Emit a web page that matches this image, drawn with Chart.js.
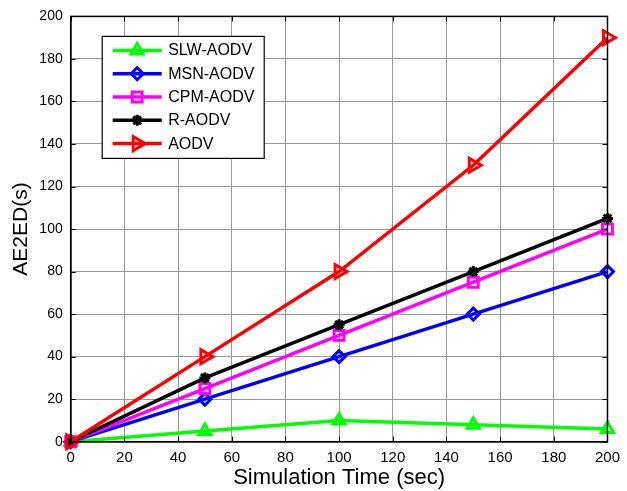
<!DOCTYPE html>
<html>
<head>
<meta charset="utf-8">
<script src="https://cdn.jsdelivr.net/npm/chart.js@4/dist/chart.umd.min.js"></script>
<style>
  html, body { margin: 0; padding: 0; background: #ffffff; }
  canvas { display: block; }
</style>
</head>
<body>
<canvas id="chart" width="627" height="491"></canvas>
<script>
// Simulation time (sec) at which each protocol was measured
const simTimes = [0, 50, 100, 150, 200];

// Average end-to-end delay, AE2ED (s), per protocol
const slwAodv = [0, 5, 10, 8, 6];
const msnAodv = [0, 20, 40, 60, 80];
const cpmAodv = [0, 25, 50, 75, 100];
const rAodv   = [0, 30, 55, 80, 105];
const aodv    = [0, 40, 80, 130, 190];

const seriesNames = ['SLW-AODV', 'MSN-AODV', 'CPM-AODV', 'R-AODV', 'AODV'];

// Axis tick values (both axes run 0..200 in steps of 20)
const xTicks = [0, 20, 40, 60, 80, 100, 120, 140, 160, 180, 200];
const yTicks = [0, 20, 40, 60, 80, 100, 120, 140, 160, 180, 200];

const FONT = "'Liberation Sans', Arial, sans-serif";

function toPoints(values) {
  return values.map((v, i) => ({ x: simTimes[i], y: v }));
}

function series(label, values, color, style, radius, rotation, order) {
  return {
    label: label,
    data: toPoints(values),
    borderColor: color,
    backgroundColor: color,
    borderWidth: 3.5,
    pointStyle: style,
    pointRadius: radius,
    pointRotation: rotation,
    pointBorderColor: color,
    pointBackgroundColor: 'rgba(0,0,0,0)',
    pointBorderWidth: 3,
    tension: 0,
    clip: false,
    order: order
  };
}

const datasets = [
  series(seriesNames[0], slwAodv, '#00ff00', 'triangle', 7, 0, 4),
  series(seriesNames[1], msnAodv, '#0000ff', 'rectRot', 6, 0, 3),
  series(seriesNames[2], cpmAodv, '#ff00ff', 'rect', 7, 0, 2),
  series(seriesNames[3], rAodv,   '#000000', 'star', 5.5, 0, 1),
  series(seriesNames[4], aodv,    '#ff0000', 'triangle', 8, 90, 0)
];

// Box frame with inward tick marks on all four sides
const frameTicks = {
  id: 'frameTicks',
  afterDatasetsDraw(chart) {
    const { ctx, chartArea: a, scales } = chart;
    const len = 5;
    ctx.save();
    ctx.strokeStyle = '#000';
    ctx.lineWidth = 1;
    ctx.beginPath();
    xTicks.forEach(v => {
      const px = Math.round(scales.x.getPixelForValue(v)) + 0.5;
      ctx.moveTo(px, a.bottom); ctx.lineTo(px, a.bottom - len);
      ctx.moveTo(px, a.top); ctx.lineTo(px, a.top + len);
    });
    yTicks.forEach(v => {
      const py = Math.round(scales.y.getPixelForValue(v)) + 0.5;
      ctx.moveTo(a.left, py); ctx.lineTo(a.left + len, py);
      ctx.moveTo(a.right, py); ctx.lineTo(a.right - len, py);
    });
    ctx.stroke();
    ctx.lineWidth = 1.5;
    ctx.strokeRect(a.left, a.top, a.right - a.left, a.bottom - a.top);
    ctx.restore();
  }
};

// Boxed legend inside the plot: line sample with marker, then the name
const boxLegend = {
  id: 'boxLegend',
  afterDraw(chart) {
    const { ctx, chartArea: a } = chart;
    const bx = a.left + 31.5, by = a.top + 20, bw = 162, bh = 122;
    ctx.save();
    ctx.fillStyle = '#ffffff';
    ctx.fillRect(bx, by, bw, bh);
    ctx.strokeStyle = '#000';
    ctx.lineWidth = 1.2;
    ctx.strokeRect(bx, by, bw, bh);
    chart.data.datasets.forEach((ds, i) => {
      const cy = by + 14 + i * 23.3;
      const x0 = bx + 10.5, x1 = bx + 59.5, xm = (x0 + x1) / 2;
      ctx.strokeStyle = ds.borderColor;
      ctx.lineWidth = ds.borderWidth;
      ctx.beginPath();
      ctx.moveTo(x0, cy); ctx.lineTo(x1, cy);
      ctx.stroke();
      ctx.lineWidth = ds.pointBorderWidth;
      ctx.fillStyle = ds.pointBackgroundColor;
      Chart.helpers.drawPoint(ctx, {
        pointStyle: ds.pointStyle,
        rotation: ds.pointRotation,
        radius: ds.pointRadius,
        borderWidth: ds.pointBorderWidth
      }, xm, cy);
      ctx.fillStyle = '#000';
      ctx.font = '16px ' + FONT;
      ctx.textAlign = 'left';
      ctx.textBaseline = 'middle';
      ctx.fillText(ds.label, bx + 66, cy + 0.5);
    });
    ctx.restore();
  }
};

new Chart(document.getElementById('chart'), {
  type: 'line',
  data: { datasets: datasets },
  options: {
    responsive: false,
    animation: false,
    devicePixelRatio: 1,
    layout: { padding: { left: 0, right: 14, top: 15, bottom: 0 } },
    plugins: {
      legend: { display: false },
      tooltip: { enabled: false }
    },
    scales: {
      x: {
        type: 'linear',
        min: 0,
        max: 200,
        afterBuildTicks(scale) { scale.ticks = xTicks.map(v => ({ value: v })); },
        afterFit(scale) { scale.height = 49.3; },
        ticks: { color: '#000', font: { family: FONT, size: 15 }, padding: 7, maxRotation: 0 },
        grid: { color: '#999999', lineWidth: 1, drawTicks: false },
        border: { color: '#000', width: 1.5 },
        title: {
          display: true,
          text: 'Simulation Time (sec)',
          color: '#000',
          font: { family: FONT, size: 22, lineHeight: 1 },
          padding: { top: 0, bottom: 2 }
        }
      },
      y: {
        type: 'linear',
        min: 0,
        max: 200,
        afterBuildTicks(scale) { scale.ticks = yTicks.map(v => ({ value: v })); },
        afterFit(scale) { scale.width = 70.7; },
        ticks: { color: '#000', font: { family: FONT, size: 14 }, padding: 8 },
        grid: { color: '#999999', lineWidth: 1, drawTicks: false },
        border: { color: '#000', width: 1.5 },
        title: {
          display: true,
          text: 'AE2ED(s)',
          color: '#000',
          font: { family: FONT, size: 21, lineHeight: 1.2 },
          padding: { top: 9, bottom: 0 }
        }
      }
    }
  },
  plugins: [frameTicks, boxLegend]
});
</script>
</body>
</html>
